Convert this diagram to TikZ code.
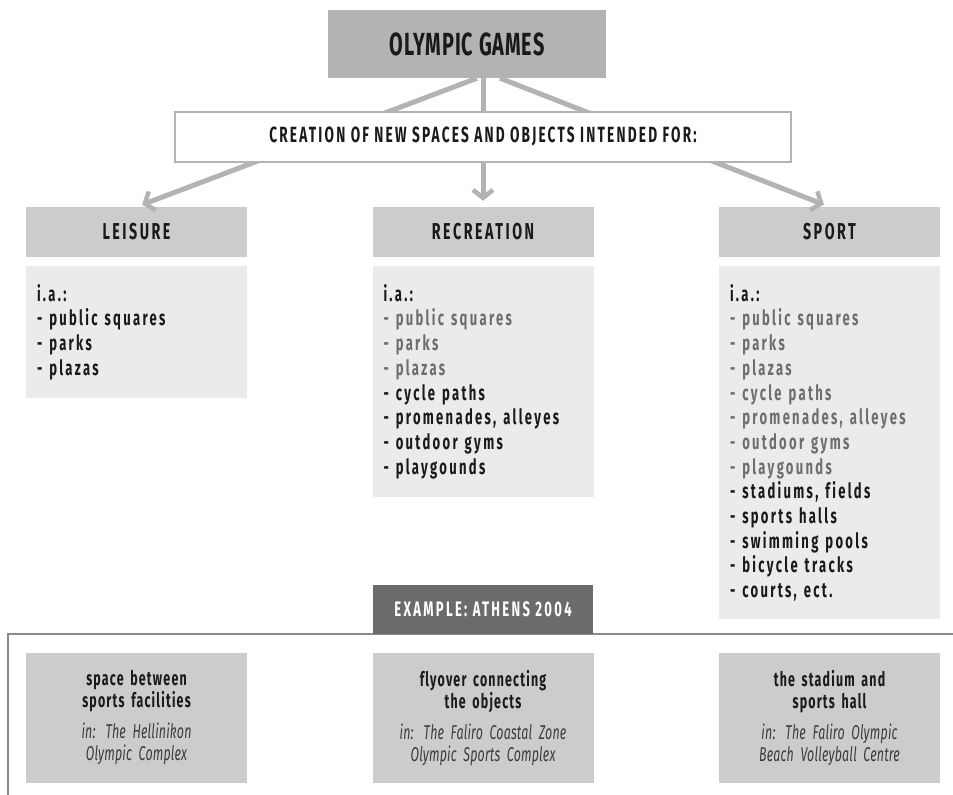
\documentclass[tikz,border=0pt]{standalone}
\usepackage{fontspec}
\setmainfont{Fira Sans}[FakeStretch=0.62,Ligatures=NoCommon]
\usetikzlibrary{arrows.meta}

\definecolor{topgray}{HTML}{B3B3B3}
\definecolor{headgray}{HTML}{CCCCCC}
\definecolor{listgray}{HTML}{EBEBEB}
\definecolor{oldgray}{HTML}{6E6E6E}
\definecolor{darkbox}{HTML}{6B6B6B}
\definecolor{framegray}{HTML}{8A8A8A}
\definecolor{ink}{HTML}{1A1A1A}
\definecolor{notegray}{HTML}{3C3C3C}

\newcommand{\was}[1]{\textcolor{oldgray}{- #1}}
\newcommand{\where}{\mdseries\itshape\addfontfeatures{LetterSpace=1}\color{notegray}}

\begin{document}
\begin{tikzpicture}[x=1pt,y=-1pt,
    box/.style={inner sep=0pt,minimum width=221pt},
    head/.style={box,fill=headgray,minimum height=50pt,text=ink,
      font=\bfseries\addfontfeatures{LetterSpace=11}\fontsize{23}{26}\selectfont},
    list/.style={box,fill=listgray,anchor=north,text width=199pt,inner xsep=11pt,
      inner ysep=18pt,align=left,text=ink,
      font=\bfseries\addfontfeatures{LetterSpace=11}\fontsize{21}{24.7}\selectfont},
    place/.style={box,fill=headgray,minimum height=130pt,text width=211pt,
      inner xsep=5pt,align=center,text=ink,
      font=\addfontfeatures{LetterSpace=6}\fontsize{20}{22}\selectfont},
    link/.style={line width=5pt,draw=topgray,shorten >=6pt,
      -{Straight Barb[length=8pt,width=20pt,line width=4.5pt]}},
  ]
  \useasboundingbox (0,0) rectangle (953,795);

  \node[fill=topgray,minimum width=278pt,minimum height=68pt,text=ink,
    font=\bfseries\addfontfeatures{LetterSpace=3}\fontsize{32}{34}\selectfont]
    (games) at (467,44) {OLYMPIC GAMES};

  \node[head] (leisure) at (136.5,232) {LEISURE};
  \node[head] (rec) at (483,232) {RECREATION};
  \node[head] (sport) at (829.5,232) {SPORT};

  \draw[link] ([xshift=-6pt]games.south -| rec.north) -- (leisure.north);
  \draw[link] (games.south -| rec.north) -- (rec.north);
  \draw[link] ([xshift=17pt]games.south -| rec.north) -- (sport.north);

  \node[fill=white,draw=topgray,line width=1.5pt,minimum width=616pt,minimum height=50pt,
    text=ink,font=\bfseries\addfontfeatures{LetterSpace=10}\fontsize{22}{24}\selectfont]
    (creation) at (483,137) {CREATION OF NEW SPACES AND OBJECTS INTENDED FOR:};

  \node[list] (leisurelist) at (136.5,266) {i.a.:\\ - public squares\\ - parks\\ - plazas};
  \node[list] (reclist) at (483,266) {i.a.:\\ \was{public squares}\\ \was{parks}\\
    \was{plazas}\\ - cycle paths\\ - promenades, alleyes\\ - outdoor gyms\\ - playgounds};
  \node[list] (sportlist) at (829.5,266) {i.a.:\\ \was{public squares}\\ \was{parks}\\
    \was{plazas}\\ \was{cycle paths}\\ \was{promenades, alleyes}\\ \was{outdoor gyms}\\
    \was{playgounds}\\ - stadiums, fields\\ - sports halls\\ - swimming pools\\
    - bicycle tracks\\ - courts, ect.};

  % example frame
  \draw[line width=2pt,draw=framegray] (8,795) |- (953,634);
  \node[fill=darkbox,minimum width=220pt,minimum height=49pt,text=white,
    font=\bfseries\addfontfeatures{LetterSpace=11}\fontsize{21}{24}\selectfont]
    (athens) at (483,609) {EXAMPLE: ATHENS 2004};

  \node[place] (hellinikon) at (136.5,718) {\bfseries space between\\ sports facilities\\[9pt]
    \where in: The Hellinikon\\ Olympic Complex};
  \node[place] (faliro) at (483,718) {\bfseries flyover connecting\\ the objects\\[9pt]
    \where in: The Faliro Coastal Zone\\ Olympic Sports Complex};
  \node[place] (beach) at (829.5,718) {\bfseries the stadium and\\ sports hall\\[9pt]
    \where in: The Faliro Olympic\\ Beach Volleyball Centre};
\end{tikzpicture}
\end{document}
